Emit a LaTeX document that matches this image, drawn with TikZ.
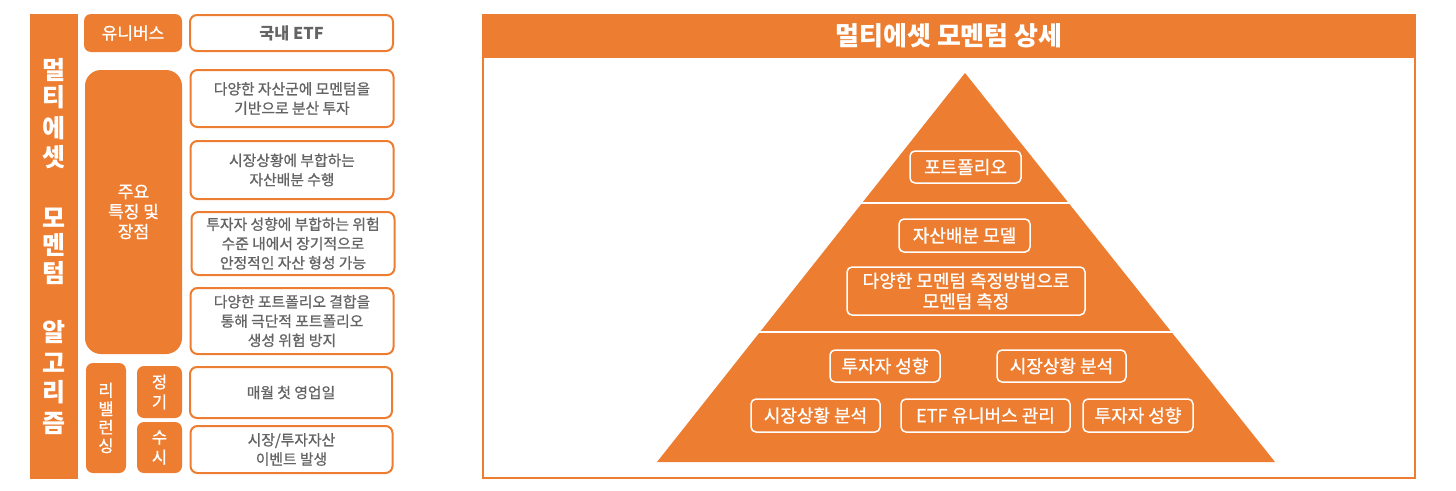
\documentclass[tikz,border=0pt]{standalone}
\usepackage{fontspec}
\setmainfont{Noto Sans CJK KR}
\newfontfamily\krsemi[FakeBold=0.9]{Noto Sans CJK KR}
\usepackage{xcolor}
\usepackage{tikz}
\usetikzlibrary{positioning}
\definecolor{myorange}{RGB}{237,125,49}
\definecolor{mytext}{RGB}{100,100,100}
\tikzset{
  orangebox/.style={rectangle, fill=myorange, text=white, align=center,
    inner sep=0pt, rounded corners=7pt, font=\krsemi\fontsize{17}{20}\selectfont},
  whitebox/.style={rectangle, draw=myorange, fill=white, text=mytext,
    align=center, inner sep=0pt, rounded corners=7pt, line width=2pt,
    minimum width=203pt, font=\krsemi\fontsize{14.8}{19.3}\selectfont},
  pyrbox/.style={rectangle, draw=white, fill=myorange, text=white,
    align=center, inner sep=0pt, rounded corners=5pt, line width=1.5pt,
    minimum height=32pt, font=\krsemi\fontsize{18}{20.5}\selectfont},
  barchar/.style={text=white, inner sep=0pt, font=\fontsize{25}{25}\bfseries\selectfont}
}

\begin{document}
\begin{tikzpicture}[x=1pt, y=-1pt]
  \useasboundingbox (0,0) rectangle (1456,490);

  % Left vertical title bar
  \fill[myorange] (30,14) rectangle (78,479);
  \foreach \ch/\yy [count=\i] in {멀/70, 티/97, 에/128, 셋/157, 모/218, 멘/245, 텀/273,
      알/332, 고/363, 리/392, 즘/423}
    \node[barchar] (c\i) at (54,\yy) {\ch};

  % Universe row
  \node[orangebox, minimum width=98pt, minimum height=38pt] (uni) at (133,33) {유니버스};
  \node[whitebox, minimum height=36pt, font=\fontsize{16.3}{18}\bfseries\selectfont] (etf) at (291.5,33) {국내 ETF};

  % Main features
  \node[orangebox, minimum width=97pt, minimum height=284pt, rounded corners=16pt] (feat) at (133.5,212) {주요\\특징 및\\장점};
  \node[whitebox, minimum height=57pt] (d1) at (292,98.5) {다양한 자산군에 모멘텀을\\기반으로 분산 투자};
  \node[whitebox, minimum height=58pt] (d2) at (292,170) {시장상황에 부합하는\\자산배분 수행};
  \node[whitebox, minimum height=63pt] (d3) at (293,243.5) {투자자 성향에 부합하는 위험\\수준 내에서 장기적으로\\안정적인 자산 형성 가능};
  \node[whitebox, minimum height=66pt] (d4) at (292,321) {다양한 포트폴리오 결합을\\통해 극단적 포트폴리오\\생성 위험 방지};

  % Rebalancing
  \node[orangebox, minimum width=40pt, minimum height=110pt, font=\krsemi\fontsize{16.5}{18.5}\selectfont] (reb) at (106,418) {리\\밸\\런\\싱};
  \node[orangebox, minimum width=45pt, minimum height=52pt, font=\krsemi\fontsize{16.5}{20}\selectfont] (reg) at (159.5,392) {정\\기};
  \node[orangebox, minimum width=45pt, minimum height=51pt, font=\krsemi\fontsize{16.5}{20}\selectfont] (adhoc) at (159.5,447.5) {수\\시};
  \node[whitebox, minimum width=202pt, minimum height=51pt] (d5) at (291,392.5) {매월 첫 영업일};
  \node[whitebox, minimum width=202pt, minimum height=47pt] (d6) at (291.5,449.5) {시장/투자자산\\이벤트 발생};

  % Right panel frame and title
  \draw[myorange, line width=2pt] (483,40) rectangle (1415,478);
  \fill[myorange] (482,14) rectangle (1416,58);
  \node[text=white, font=\fontsize{26}{26}\bfseries\selectfont] (title) at (949,36) {멀티에셋 모멘텀 상세};

  % Pyramid
  \fill[myorange] (965,73) -- (1275,462) -- (657,462) -- cycle;
  \draw[white, line width=2.5pt] (800,203) -- (1130,203);
  \draw[white, line width=2.5pt] (700,332) -- (1230,332);

  % Pyramid top tier
  \node[pyrbox, minimum width=111pt] (port) at (965.5,167) {포트폴리오};
  % Pyramid middle tier
  \node[pyrbox, minimum width=131pt, minimum height=33pt] (alloc) at (964.5,235.5) {자산배분 모델};
  \node[pyrbox, minimum width=238pt, minimum height=48pt] (meas) at (966,291) {다양한 모멘텀 측정방법으로\\모멘텀 측정};
  % Pyramid bottom tier
  \node[pyrbox, minimum width=110pt] (inv1) at (885,366) {투자자 성향};
  \node[pyrbox, minimum width=129pt] (mkt1) at (1061.5,366) {시장상황 분석};
  \node[pyrbox, minimum width=129pt, minimum height=33pt] (mkt2) at (815.5,415.5) {시장상황 분석};
  \node[pyrbox, minimum width=169pt, minimum height=33pt] (etfm) at (985.5,415.5) {ETF 유니버스 관리};
  \node[pyrbox, minimum width=110pt, minimum height=33pt] (inv2) at (1138,415.5) {투자자 성향};
\end{tikzpicture}
\end{document}
